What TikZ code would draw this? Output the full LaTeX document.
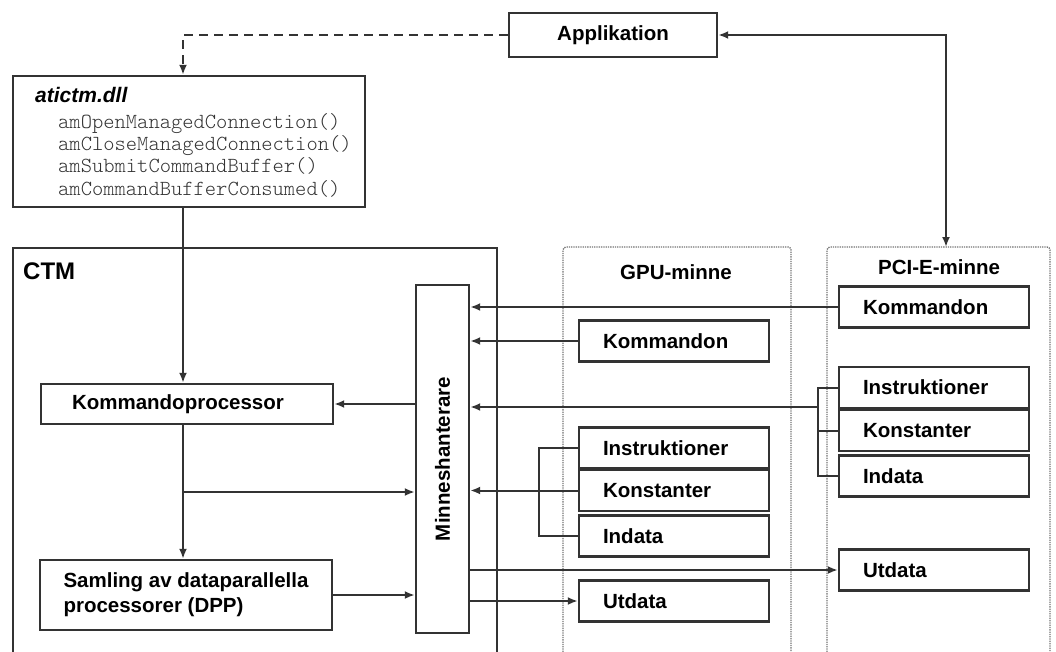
\documentclass[tikz,border=0pt]{standalone}
\usepackage{fontspec}
\setmainfont{Liberation Sans}
\newfontfamily\apifont{lmmonolt10-regular.otf}
\usetikzlibrary{arrows.meta}

\tikzset{
  box/.style={draw=black!80, line width=2.4pt, font=\bfseries\fontsize{20.5}{25}\selectfont},
  mem/.style={box, minimum height=41pt, text width=142pt, inner xsep=24pt, align=left},
  link/.style={draw=black!80, line width=2pt},
  area/.style={draw=black!55, densely dotted, line width=1.3pt, rounded corners=3pt},
  title/.style={font=\bfseries\fontsize{20.5}{24}\selectfont}
}

\begin{document}
\begin{tikzpicture}[x=1pt, y=-1pt, >={Latex[length=10pt,width=8pt]}]
	\useasboundingbox (0,0) rectangle (1056,652);

	% memory areas and the CTM frame (cut off at the bottom)
	\draw[area] (563,652) -- (563,247) -- (791,247) -- (791,652);
	\draw[area] (827,652) -- (827,247) -- (1050,247) -- (1050,652);
	\draw[link, line width=2.4pt] (13,652) -- (13,248) -- (497,248) -- (497,652);
	\node[title, anchor=west, inner sep=0, font=\bfseries\fontsize{24}{28}\selectfont] (ctm) at (23,271) {CTM};
	\node[title] (gpulbl) at (676,272) {GPU-minne};
	\node[title] (pcilbl) at (939,267) {PCI-E-minne};

	% application and driver
	\node[box, minimum width=208pt, minimum height=44pt] (app) at (613,35) {Applikation};
	\node[box, minimum width=352pt, minimum height=131pt] (dll) at (189,141.5) {};
	\node[anchor=base west, inner sep=0, font=\bfseries\itshape\fontsize{21}{24}\selectfont] (dllname) at (35,103) {atictm.dll};
	\node[anchor=north west, inner sep=0, align=left, text=black!80,
	      font=\apifont\fontsize{21.5}{22.3}\selectfont] (dllapi) at (58,113)
	      {amOpenManagedConnection()\\amCloseManagedConnection()\\amSubmitCommandBuffer()\\amCommandBufferConsumed()};

	% inside CTM
	\node[box, minimum width=53pt, minimum height=348pt] (mh) at (442.5,459) {\rotatebox{90}{Minneshanterare}};
	\node[box, minimum height=40pt, text width=230pt, inner xsep=31pt, align=left] (kp) at (187,404) {Kommandoprocessor};
	\node[box, minimum width=292pt, minimum height=70pt, align=left] (dpp) at (186,595) {Samling av dataparallella\\processorer (DPP)};

	% GPU memory
	\node[mem] (gpukom) at (674,341) {Kommandon};
	\node[mem] (gpuins) at (674,448) {Instruktioner};
	\node[mem] (gpukon) at (674,490.5) {Konstanter};
	\node[mem] (gpuind) at (674,536) {Indata};
	\node[mem] (gpuut) at (674,601) {Utdata};

	% PCI-E memory
	\node[mem] (pcikom) at (934,307) {Kommandon};
	\node[mem] (pciins) at (934,387.5) {Instruktioner};
	\node[mem] (pcikon) at (934,430.5) {Konstanter};
	\node[mem] (pciind) at (934,476) {Indata};
	\node[mem] (pciut) at (934,570) {Utdata};

	\coordinate (bus) at (183,0);
	\coordinate (split) at (183,492);
	\coordinate (pcitop) at (946,247);
	\coordinate (pcib) at (818,407);
	\coordinate (gpub) at (539,0);

	% application links
	\draw[link, dash pattern=on 9pt off 6pt, ->] (app.west) -| (dll.north -| bus);
	\draw[link, <->] (app.east) -| (pcitop);

	% command flow
	\draw[link, ->] (dll.south -| bus) -- (kp.north -| bus);
	\draw[link, ->] (kp.south -| bus) -- (dpp.north -| bus);
	\draw[link, ->] (split) -- (split -| mh.west);
	\draw[link, ->] (dpp.east) -- (dpp.east -| mh.west);
	\draw[link, ->] (mh.west |- kp.east) -- (kp.east);

	% reads into the memory manager
	\draw[link, ->] (pcikom.west) -- (pcikom.west -| mh.east);
	\draw[link, ->] (gpukom.west) -- (gpukom.west -| mh.east);
	\draw[link] (pciins.west) -- (pciins.west -| pcib) -- (pciind.west -| pcib) -- (pciind.west);
	\draw[link] (pcikon.west) -- (pcikon.west -| pcib);
	\draw[link, ->] (pcib) -- (pcib -| mh.east);
	\draw[link] (gpuins.west) -- (gpuins.west -| gpub) -- (gpuind.west -| gpub) -- (gpuind.west);
	\draw[link, ->] (gpukon.west) -- (gpukon.west -| mh.east);

	% writes out
	\draw[link, ->] (mh.east |- pciut.west) -- (pciut.west);
	\draw[link, ->] (mh.east |- gpuut.west) -- (gpuut.west);
\end{tikzpicture}
\end{document}
